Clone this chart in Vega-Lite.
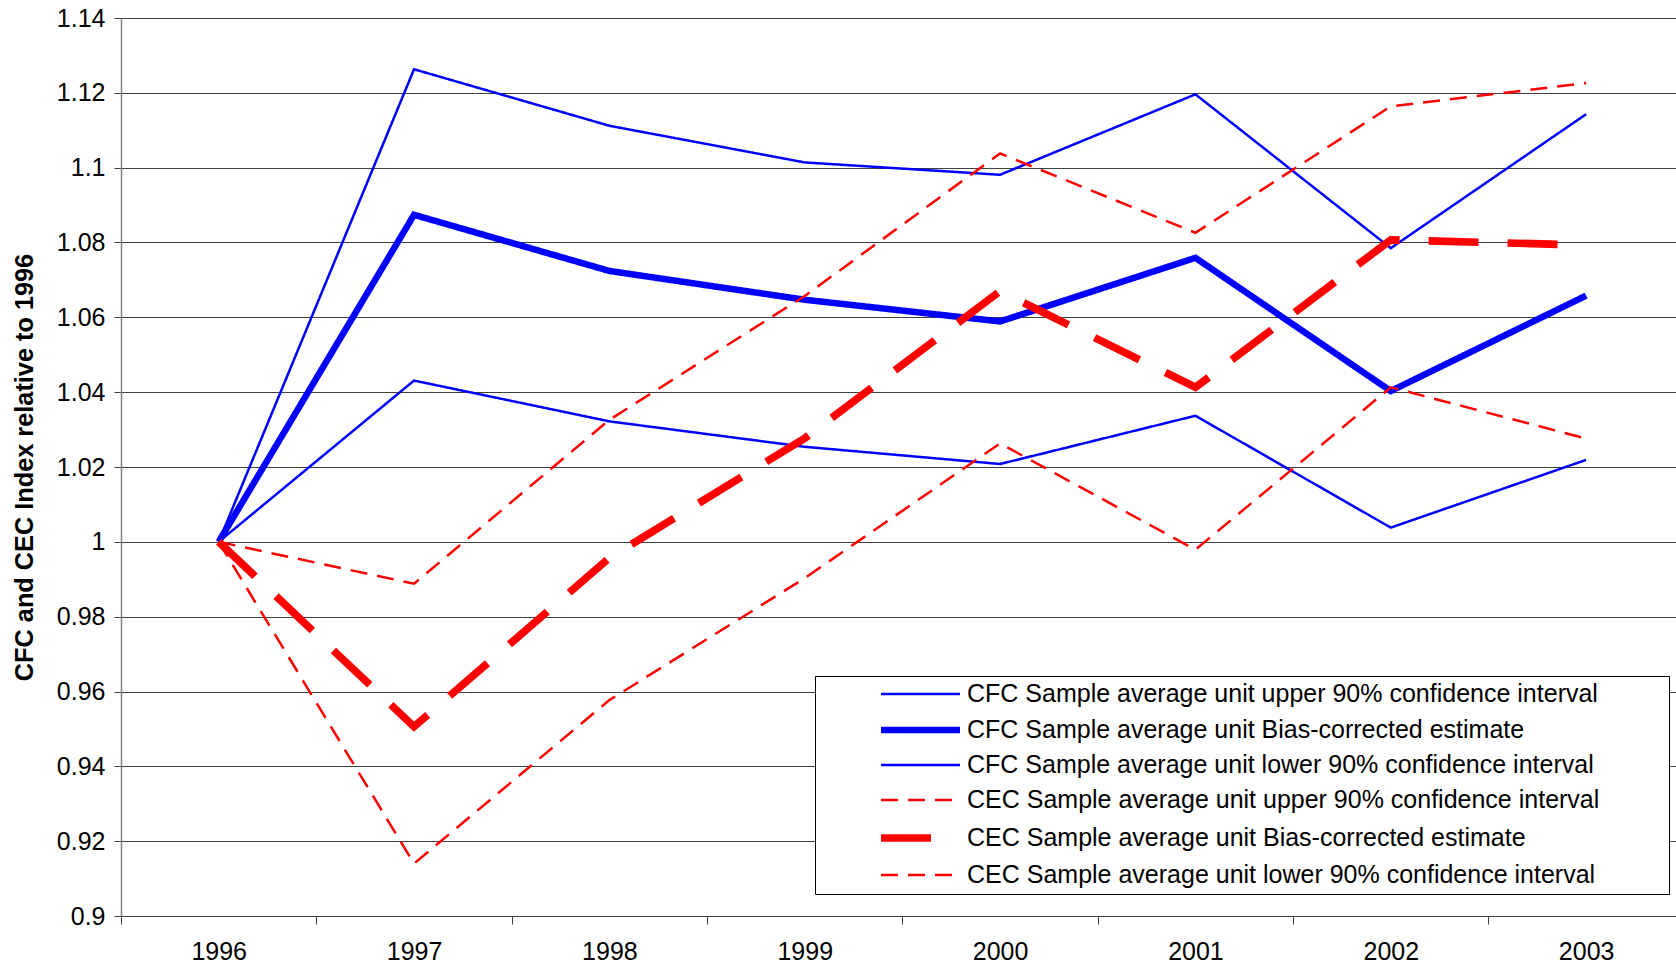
{
  "$schema": "https://vega.github.io/schema/vega-lite/v6.json",
  "width": 1555,
  "height": 898,
  "autosize": "none",
  "padding": {"left": 121, "top": 18, "right": 0, "bottom": 51},
  "background": "white",
  "config": {
    "view": {"stroke": null},
    "font": "Liberation Sans"
  },
  "data": {
    "values": [
      {"year": 1996, "series": "CFC Sample average unit upper 90% confidence interval", "value": 1.0},
      {"year": 1997, "series": "CFC Sample average unit upper 90% confidence interval", "value": 1.1263},
      {"year": 1998, "series": "CFC Sample average unit upper 90% confidence interval", "value": 1.1112},
      {"year": 1999, "series": "CFC Sample average unit upper 90% confidence interval", "value": 1.1014},
      {"year": 2000, "series": "CFC Sample average unit upper 90% confidence interval", "value": 1.0981},
      {"year": 2001, "series": "CFC Sample average unit upper 90% confidence interval", "value": 1.1196},
      {"year": 2002, "series": "CFC Sample average unit upper 90% confidence interval", "value": 1.0785},
      {"year": 2003, "series": "CFC Sample average unit upper 90% confidence interval", "value": 1.1143},
      {"year": 1996, "series": "CFC Sample average unit Bias-corrected estimate", "value": 1.0},
      {"year": 1997, "series": "CFC Sample average unit Bias-corrected estimate", "value": 1.0874},
      {"year": 1998, "series": "CFC Sample average unit Bias-corrected estimate", "value": 1.0724},
      {"year": 1999, "series": "CFC Sample average unit Bias-corrected estimate", "value": 1.0647},
      {"year": 2000, "series": "CFC Sample average unit Bias-corrected estimate", "value": 1.0589},
      {"year": 2001, "series": "CFC Sample average unit Bias-corrected estimate", "value": 1.0759},
      {"year": 2002, "series": "CFC Sample average unit Bias-corrected estimate", "value": 1.0403},
      {"year": 2003, "series": "CFC Sample average unit Bias-corrected estimate", "value": 1.0658},
      {"year": 1996, "series": "CFC Sample average unit lower 90% confidence interval", "value": 1.0},
      {"year": 1997, "series": "CFC Sample average unit lower 90% confidence interval", "value": 1.0431},
      {"year": 1998, "series": "CFC Sample average unit lower 90% confidence interval", "value": 1.0322},
      {"year": 1999, "series": "CFC Sample average unit lower 90% confidence interval", "value": 1.0254},
      {"year": 2000, "series": "CFC Sample average unit lower 90% confidence interval", "value": 1.0208},
      {"year": 2001, "series": "CFC Sample average unit lower 90% confidence interval", "value": 1.0337},
      {"year": 2002, "series": "CFC Sample average unit lower 90% confidence interval", "value": 1.0038},
      {"year": 2003, "series": "CFC Sample average unit lower 90% confidence interval", "value": 1.0219},
      {"year": 1996, "series": "CEC Sample average unit upper 90% confidence interval", "value": 1.0},
      {"year": 1997, "series": "CEC Sample average unit upper 90% confidence interval", "value": 0.9888},
      {"year": 1998, "series": "CEC Sample average unit upper 90% confidence interval", "value": 1.0326},
      {"year": 1999, "series": "CEC Sample average unit upper 90% confidence interval", "value": 1.0657},
      {"year": 2000, "series": "CEC Sample average unit upper 90% confidence interval", "value": 1.1038},
      {"year": 2001, "series": "CEC Sample average unit upper 90% confidence interval", "value": 1.0826},
      {"year": 2002, "series": "CEC Sample average unit upper 90% confidence interval", "value": 1.1164},
      {"year": 2003, "series": "CEC Sample average unit upper 90% confidence interval", "value": 1.1226},
      {"year": 1996, "series": "CEC Sample average unit Bias-corrected estimate", "value": 1.0},
      {"year": 1997, "series": "CEC Sample average unit Bias-corrected estimate", "value": 0.9506},
      {"year": 1998, "series": "CEC Sample average unit Bias-corrected estimate", "value": 0.9957},
      {"year": 1999, "series": "CEC Sample average unit Bias-corrected estimate", "value": 1.0277},
      {"year": 2000, "series": "CEC Sample average unit Bias-corrected estimate", "value": 1.067},
      {"year": 2001, "series": "CEC Sample average unit Bias-corrected estimate", "value": 1.0413},
      {"year": 2002, "series": "CEC Sample average unit Bias-corrected estimate", "value": 1.0807},
      {"year": 2003, "series": "CEC Sample average unit Bias-corrected estimate", "value": 1.0793},
      {"year": 1996, "series": "CEC Sample average unit lower 90% confidence interval", "value": 1.0},
      {"year": 1997, "series": "CEC Sample average unit lower 90% confidence interval", "value": 0.914},
      {"year": 1998, "series": "CEC Sample average unit lower 90% confidence interval", "value": 0.9577},
      {"year": 1999, "series": "CEC Sample average unit lower 90% confidence interval", "value": 0.9903},
      {"year": 2000, "series": "CEC Sample average unit lower 90% confidence interval", "value": 1.0263},
      {"year": 2001, "series": "CEC Sample average unit lower 90% confidence interval", "value": 0.9979},
      {"year": 2002, "series": "CEC Sample average unit lower 90% confidence interval", "value": 1.0413},
      {"year": 2003, "series": "CEC Sample average unit lower 90% confidence interval", "value": 1.0276}
    ]
  },
  "mark": {"type": "line", "strokeCap": "butt", "strokeJoin": "miter"},
  "encoding": {
    "x": {
      "field": "year",
      "type": "quantitative",
      "scale": {"domain": [1995.5, 2003.46], "nice": false, "zero": false},
      "axis": {
        "title": null,
        "values": [1995.5, 1996.5, 1997.5, 1998.5, 1999.5, 2000.5, 2001.5, 2002.5],
        "labelExpr": "format(datum.value + 0.5, 'd')",
        "labelOffset": 97.7,
        "labelOverlap": false,
        "labelFlush": false,
        "labelFont": "Liberation Sans",
        "labelFontSize": 25,
        "labelColor": "#000000",
        "labelPadding": 15,
        "grid": false,
        "domainColor": "#404040",
        "domainWidth": 1,
        "tickColor": "#404040",
        "tickSize": 8,
        "tickWidth": 1
      }
    },
    "y": {
      "field": "value",
      "type": "quantitative",
      "scale": {"domain": [0.9, 1.14], "nice": false, "zero": false},
      "axis": {
        "title": "CFC and CEC Index relative to 1996",
        "titleFont": "Liberation Sans",
        "titleFontSize": 25.3,
        "titleFontWeight": "bold",
        "titleColor": "#000000",
        "titleX": -97,
        "titleY": 449,
        "titleAngle": -90,
        "titleAlign": "center",
        "titleBaseline": "middle",
        "values": [0.9, 0.92, 0.94, 0.96, 0.98, 1, 1.02, 1.04, 1.06, 1.08, 1.1, 1.12, 1.14],
        "format": "~g",
        "labelFont": "Liberation Sans",
        "labelFontSize": 25,
        "labelColor": "#000000",
        "labelPadding": 9,
        "labelOverlap": false,
        "labelFlush": false,
        "grid": true,
        "gridColor": "#404040",
        "gridWidth": 1,
        "domainColor": "#808080",
        "domainWidth": 1.5,
        "tickColor": "#404040",
        "tickSize": 7,
        "tickWidth": 1
      }
    },
    "color": {
      "field": "series",
      "type": "nominal",
      "scale": {
        "domain": [
          "CFC Sample average unit upper 90% confidence interval",
          "CFC Sample average unit Bias-corrected estimate",
          "CFC Sample average unit lower 90% confidence interval",
          "CEC Sample average unit upper 90% confidence interval",
          "CEC Sample average unit Bias-corrected estimate",
          "CEC Sample average unit lower 90% confidence interval"
        ],
        "range": ["#0000FF", "#0000FF", "#0000FF", "#FF0000", "#FF0000", "#FF0000"]
      },
      "legend": {
        "title": "\u00a0",
        "titleOrient": "right",
        "titleFontSize": 1,
        "titlePadding": 64,
        "orient": "none",
        "legendX": 694,
        "legendY": 658,
        "padding": 5.5,
        "strokeColor": "#000000",
        "fillColor": "#FFFFFF",
        "symbolType": "M-5.643,0H5.643",
        "symbolSize": 196,
        "symbolOffset": 87.5,
        "labelOffset": 34,
        "rowPadding": 9,
        "labelFont": "Liberation Sans",
        "labelFontSize": 25,
        "labelColor": "#000000",
        "labelLimit": 2000
      }
    },
    "strokeDash": {
      "field": "series",
      "type": "nominal",
      "scale": {
        "type": "ordinal",
        "domain": [
          "CFC Sample average unit upper 90% confidence interval",
          "CFC Sample average unit Bias-corrected estimate",
          "CFC Sample average unit lower 90% confidence interval",
          "CEC Sample average unit upper 90% confidence interval",
          "CEC Sample average unit Bias-corrected estimate",
          "CEC Sample average unit lower 90% confidence interval"
        ],
        "range": [[1, 0], [1, 0], [1, 0], [17, 10], [50, 29], [17, 10]]
      },
      "legend": {
        "title": "\u00a0",
        "titleOrient": "right",
        "titleFontSize": 1,
        "titlePadding": 64,
        "orient": "none",
        "legendX": 694,
        "legendY": 658,
        "padding": 5.5,
        "strokeColor": "#000000",
        "fillColor": "#FFFFFF",
        "symbolType": "M-5.643,0H5.643",
        "symbolSize": 196,
        "symbolOffset": 87.5,
        "labelOffset": 34,
        "rowPadding": 9,
        "labelFont": "Liberation Sans",
        "labelFontSize": 25,
        "labelColor": "#000000",
        "labelLimit": 2000
      }
    },
    "strokeWidth": {
      "field": "series",
      "type": "nominal",
      "scale": {
        "type": "ordinal",
        "domain": [
          "CFC Sample average unit upper 90% confidence interval",
          "CFC Sample average unit Bias-corrected estimate",
          "CFC Sample average unit lower 90% confidence interval",
          "CEC Sample average unit upper 90% confidence interval",
          "CEC Sample average unit Bias-corrected estimate",
          "CEC Sample average unit lower 90% confidence interval"
        ],
        "range": [2.5, 6.5, 2.5, 2.5, 7.7, 2.5]
      },
      "legend": {
        "title": "\u00a0",
        "titleOrient": "right",
        "titleFontSize": 1,
        "titlePadding": 64,
        "orient": "none",
        "legendX": 694,
        "legendY": 658,
        "padding": 5.5,
        "strokeColor": "#000000",
        "fillColor": "#FFFFFF",
        "symbolType": "M-5.643,0H5.643",
        "symbolSize": 196,
        "symbolOffset": 87.5,
        "labelOffset": 34,
        "rowPadding": 9,
        "labelFont": "Liberation Sans",
        "labelFontSize": 25,
        "labelColor": "#000000",
        "labelLimit": 2000
      }
    }
  }
}
